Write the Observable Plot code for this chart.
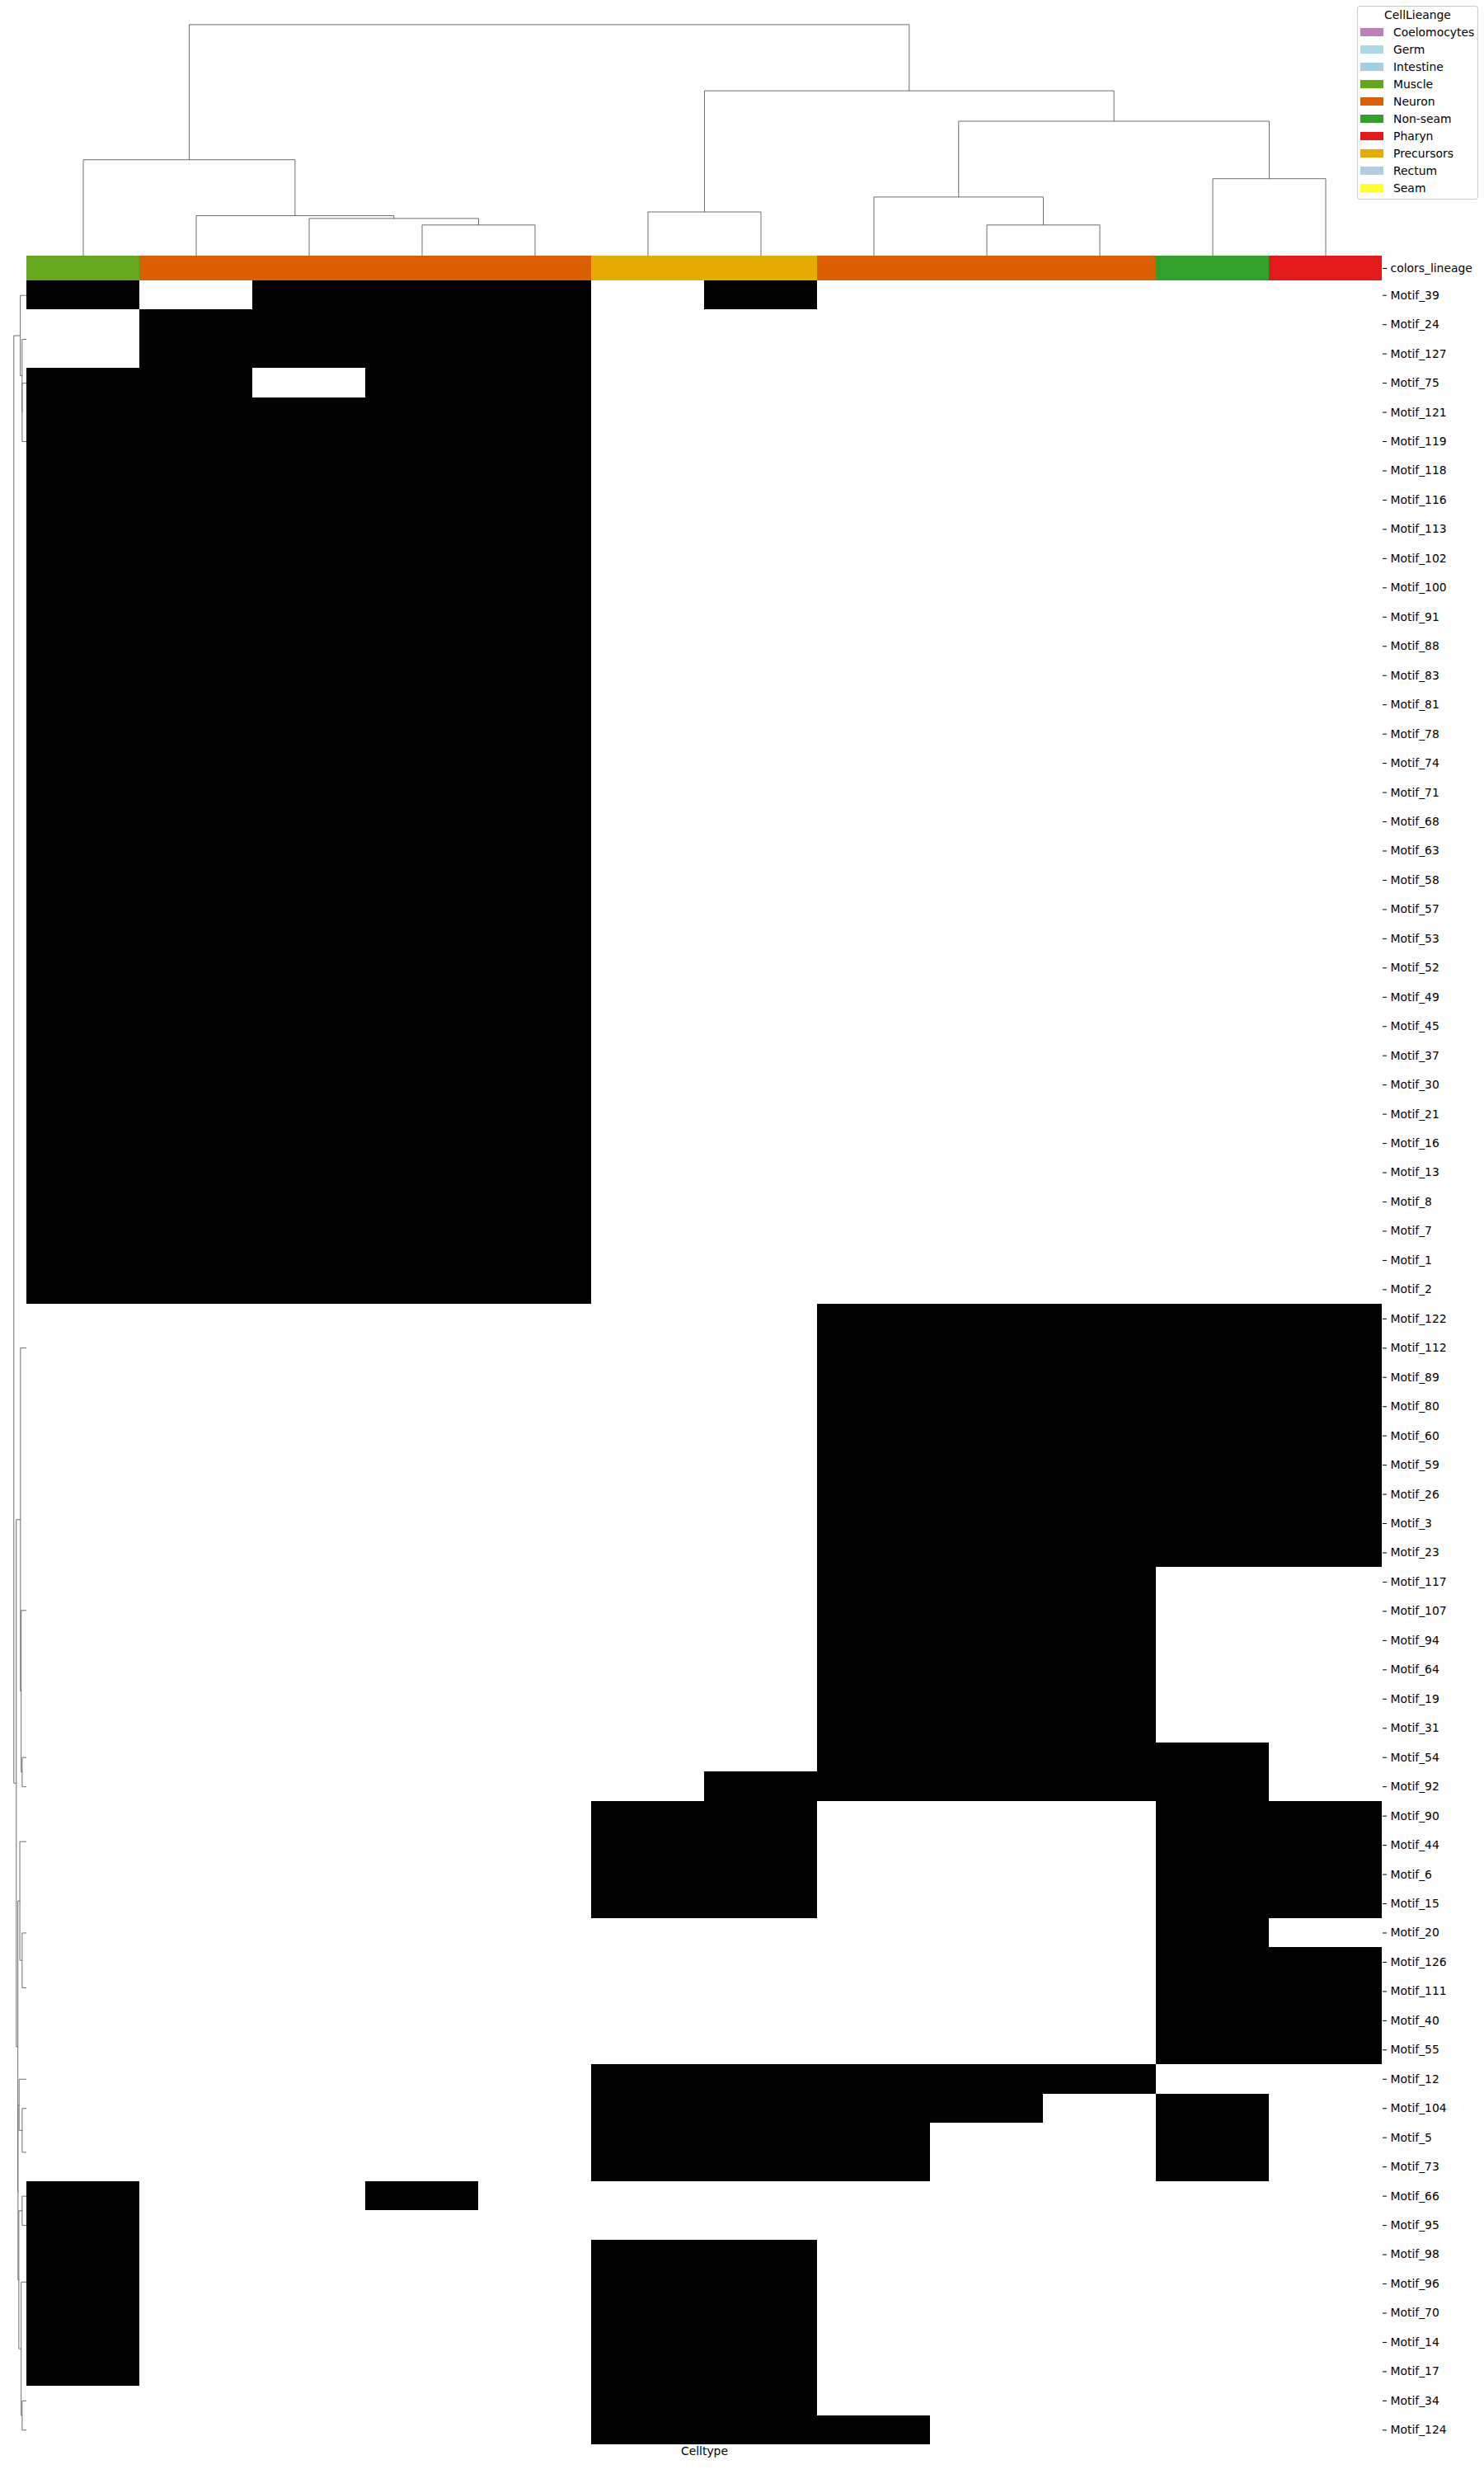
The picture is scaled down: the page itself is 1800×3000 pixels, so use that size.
<!DOCTYPE html>
<html>
<head>
<meta charset="utf-8">
<script src="https://cdn.jsdelivr.net/npm/d3@7"></script>
<script src="https://cdn.jsdelivr.net/npm/@observablehq/plot@0.6"></script>
<style>
  body { margin: 0; background: #ffffff; }
  #fig { position: relative; width: 1800px; height: 3000px; overflow: hidden; font-family: "DejaVu Sans", sans-serif; }
</style>
</head>
<body>
<div id="fig"></div>
<script>
// ---------------- data ----------------
const motifs = ["Motif_39","Motif_24","Motif_127","Motif_75","Motif_121","Motif_119","Motif_118","Motif_116","Motif_113","Motif_102",
  "Motif_100","Motif_91","Motif_88","Motif_83","Motif_81","Motif_78","Motif_74","Motif_71","Motif_68","Motif_63",
  "Motif_58","Motif_57","Motif_53","Motif_52","Motif_49","Motif_45","Motif_37","Motif_30","Motif_21","Motif_16",
  "Motif_13","Motif_8","Motif_7","Motif_1","Motif_2","Motif_122","Motif_112","Motif_89","Motif_80","Motif_60",
  "Motif_59","Motif_26","Motif_3","Motif_23","Motif_117","Motif_107","Motif_94","Motif_64","Motif_19","Motif_31",
  "Motif_54","Motif_92","Motif_90","Motif_44","Motif_6","Motif_15","Motif_20","Motif_126","Motif_111","Motif_40",
  "Motif_55","Motif_12","Motif_104","Motif_5","Motif_73","Motif_66","Motif_95","Motif_98","Motif_96","Motif_70",
  "Motif_14","Motif_17","Motif_34","Motif_124"];

// presence (1 = black) per motif, one character per cell-type column
const cells = [
  "101110100000","011110000000","011110000000","110110000000",
  "111110000000","111110000000","111110000000","111110000000","111110000000","111110000000",
  "111110000000","111110000000","111110000000","111110000000","111110000000","111110000000",
  "111110000000","111110000000","111110000000","111110000000","111110000000","111110000000",
  "111110000000","111110000000","111110000000","111110000000","111110000000","111110000000",
  "111110000000","111110000000","111110000000","111110000000","111110000000","111110000000",
  "111110000000",
  "000000011111","000000011111","000000011111","000000011111","000000011111","000000011111",
  "000000011111","000000011111","000000011111",
  "000000011100","000000011100","000000011100","000000011100","000000011100","000000011100",
  "000000011110","000000111110",
  "000001100011","000001100011","000001100011","000001100011",
  "000000000010",
  "000000000011","000000000011","000000000011","000000000011",
  "000001111100","000001111010","000001110010","000001110010",
  "100100000000","100000000000",
  "100001100000","100001100000","100001100000","100001100000","100001100000",
  "000001100000","000001110000"];

const columnLineage = ["Muscle","Neuron","Neuron","Neuron","Neuron","Precursors","Precursors","Neuron","Neuron","Neuron","Non-seam","Pharyn"];

const lineageNames  = ["Coelomocytes","Germ","Intestine","Muscle","Neuron","Non-seam","Pharyn","Precursors","Rectum","Seam"];
const lineageColors = ["#bc80bd","#add8e6","#a6cee3","#66a61e","#d95f02","#33a02c","#e31a1c","#e6ab02","#b3cde3","#ffff33"];

// column dendrogram: [childA, childB, height]; leaves 0..11, new nodes numbered from 12
const colLinkage = [[3,4,1.00],[2,12,1.21],[1,13,1.30],[0,14,3.10],[8,9,1.00],[7,16,1.90],
  [10,11,2.49],[17,18,4.34],[5,6,1.42],[20,19,5.32],[15,21,7.45]];

// row dendrogram: runs of identical motifs (in display order) then merges between them
const rowClusterSizes = [1,2,1,31,9,6,1,1,4,1,4,1,1,2,1,1,5,1,1];
const rowLinkage = [[2,3,1.00],[1,19,1.01],[0,20,1.40],[6,7,1.00],[5,22,1.21],[4,23,1.36],
  [9,10,1.00],[8,25,1.50],[12,13,1.00],[11,27,1.66],[14,15,1.00],[17,18,1.00],[16,30,1.21],
  [29,31,1.71],[28,32,1.89],[26,33,1.93],[24,34,2.26],[21,35,2.79]];

// ---------------- layout ----------------
const fig = document.getElementById("fig");
const heatLeft = 32, heatRightMargin = 124;
const colorTop = 310, heatTop = 340, rowH = 35.46;
const heatH = motifs.length * rowH;
const svgStyle = "background:none;font-family:'DejaVu Sans',sans-serif;font-size:13.9px;color:#000;overflow:visible;";
const lineColor = "#6e6e6e";

function place(el, left, top) {
  el.style.position = "absolute";
  el.style.left = left + "px";
  el.style.top = top + "px";
  fig.appendChild(el);
}

// ---- top (column) dendrogram ----
const nCol = columnLineage.length;
const cPos = new Map(), cHt = new Map();
for (let i = 0; i < nCol; i++) { cPos.set(i, i + 0.5); cHt.set(i, 0); }
const colLinks = [];
colLinkage.forEach(([a, b, h], k) => {
  const id = nCol + k;
  colLinks.push({k, x: cPos.get(a), y: cHt.get(a)}, {k, x: cPos.get(a), y: h},
                {k, x: cPos.get(b), y: h}, {k, x: cPos.get(b), y: cHt.get(b)});
  cPos.set(id, (cPos.get(a) + cPos.get(b)) / 2);
  cHt.set(id, h);
});
const maxColH = d3.max(colLinkage, d => d[2]);
const topDendro = Plot.plot({
  width: 1800, height: 310,
  marginLeft: heatLeft, marginRight: heatRightMargin, marginTop: 15.3, marginBottom: 0,
  x: {domain: [0, nCol], axis: null},
  y: {domain: [0, maxColH * 1.05], axis: null},
  style: svgStyle,
  marks: [Plot.line(colLinks, {x: "x", y: "y", z: "k", stroke: lineColor, strokeWidth: 1})]
});
place(topDendro, 0, 0);

// ---- lineage colour bar ----
const cbar = Plot.plot({
  width: 1800, height: 30,
  marginLeft: heatLeft, marginRight: heatRightMargin, marginTop: 0, marginBottom: 0,
  x: {domain: d3.range(nCol), padding: 0, axis: null},
  y: {domain: ["colors_lineage"], padding: 0},
  color: {domain: lineageNames, range: lineageColors},
  style: svgStyle,
  marks: [
    Plot.cell(columnLineage.map((l, i) => ({i, l})),
      {x: "i", y: () => "colors_lineage", fill: "l", inset: 0, shapeRendering: "crispEdges"}),
    Plot.axisY({anchor: "right", tickSize: 5, tickPadding: 5, label: null, fontSize: 13.9})
  ]
});
place(cbar, 0, colorTop);

// ---- left (row) dendrogram ----
const nGroups = rowClusterSizes.length;
const rPos = new Map(), rHt = new Map();
let start = 0;
rowClusterSizes.forEach((n, g) => {
  rPos.set(g, start + 0.5 + (n > 1 ? 1 - Math.pow(2, -(n - 1)) : 0));
  rHt.set(g, 0);
  start += n;
});
const rowLinks = [];
rowLinkage.forEach(([a, b, h], k) => {
  const id = nGroups + k;
  rowLinks.push({k, x: rHt.get(a), y: rPos.get(a)}, {k, x: h, y: rPos.get(a)},
                {k, x: h, y: rPos.get(b)}, {k, x: rHt.get(b), y: rPos.get(b)});
  rPos.set(id, (rPos.get(a) + rPos.get(b)) / 2);
  rHt.set(id, h);
});
const leftDendro = Plot.plot({
  width: heatLeft, height: heatH, margin: 0,
  x: {domain: [5.68, 0], axis: null},
  y: {domain: [motifs.length, 0], axis: null},
  style: svgStyle,
  marks: [Plot.line(rowLinks, {x: "x", y: "y", z: "k", stroke: lineColor, strokeWidth: 1})]
});
place(leftDendro, 0, heatTop);

// ---- heatmap ----
const heatData = [];
motifs.forEach((m, r) => cells[r].split("").forEach((c, j) => heatData.push({m, j, v: +c})));
const heat = Plot.plot({
  width: 1800, height: heatH + 37,
  marginLeft: heatLeft, marginRight: heatRightMargin, marginTop: 0, marginBottom: 37,
  x: {domain: d3.range(nCol), padding: 0, axis: null},
  y: {domain: motifs, padding: 0},
  color: {type: "ordinal", domain: [0, 1], range: ["#ffffff", "#000000"]},
  style: svgStyle,
  marks: [
    Plot.cell(heatData, {x: "j", y: "m", fill: "v", inset: 0, shapeRendering: "crispEdges"}),
    Plot.axisY({anchor: "right", tickSize: 5, tickPadding: 5, label: null, fontSize: 13.9}),
    Plot.text(["Celltype"], {frameAnchor: "bottom", dy: 12, fontSize: 13.9, fill: "#000"})
  ]
});
place(heat, 0, heatTop);

// ---- legend ----
const box = document.createElement("div");
box.style.cssText = "position:absolute;left:1646px;top:7px;width:147px;height:235px;box-sizing:border-box;border:1px solid #cccccc;border-radius:3px;background:rgba(255,255,255,0.8);";
fig.appendChild(box);
const title = document.createElement("div");
title.textContent = "CellLieange";
title.style.cssText = "position:absolute;left:1646px;width:147px;top:9.7px;line-height:16px;text-align:center;font-size:13.9px;color:#000;";
fig.appendChild(title);
lineageNames.forEach((name, k) => {
  const cy = 39.3 + 20.97 * k;
  const sw = document.createElement("div");
  sw.style.cssText = `position:absolute;left:1650px;top:${cy - 4.85}px;width:28px;height:9.7px;background:${lineageColors[k]};`;
  fig.appendChild(sw);
  const tx = document.createElement("div");
  tx.textContent = name;
  tx.style.cssText = `position:absolute;left:1690px;top:${cy - 8}px;line-height:16px;font-size:13.9px;color:#000;white-space:nowrap;`;
  fig.appendChild(tx);
});
</script>
</body>
</html>
